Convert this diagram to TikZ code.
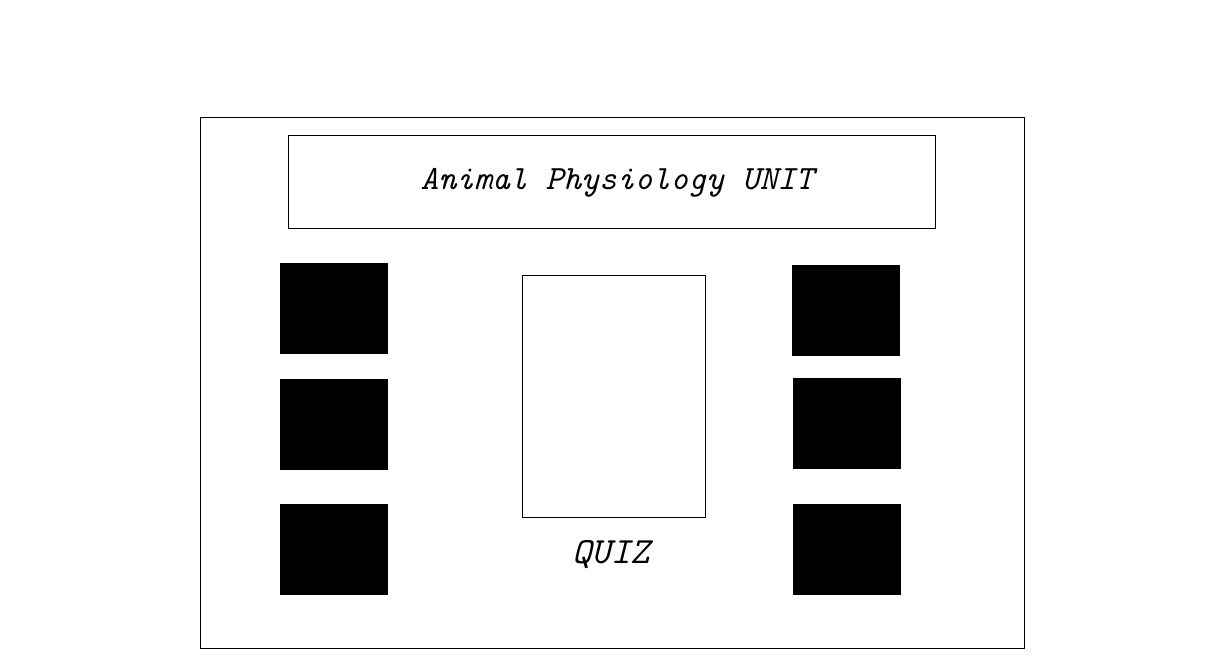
\documentclass[tikz,border=0pt]{standalone}
\begin{document}
\begin{tikzpicture}[x=1pt,y=-1pt,
  frame/.style={draw=black,line width=1pt},
  blk/.style={fill=black},
  lbl/.style={font=\fontsize{34}{36}\selectfont\ttfamily\itshape,inner sep=0pt},
  qlbl/.style={font=\fontsize{37}{40}\selectfont\ttfamily\itshape,inner sep=0pt}]
\useasboundingbox (0,0) rectangle (1222,666);
\draw[frame] (200,118) rectangle (1024,648);
\draw[frame] (288,135) rectangle (935,228);
\node[lbl] (title) at (617,183) {Animal Physiology UNIT};
\fill[blk] (280,263) rectangle (388,354);
\fill[blk] (280,379) rectangle (388,470);
\fill[blk] (280,504) rectangle (388,595);
\fill[blk] (792,265) rectangle (900,356);
\fill[blk] (793,378) rectangle (901,469);
\fill[blk] (793,504) rectangle (901,595);
\draw[frame] (522,275) rectangle (705,517);
\node[qlbl] (quiz) at (611,555) {QUIZ};
\end{tikzpicture}
\end{document}
